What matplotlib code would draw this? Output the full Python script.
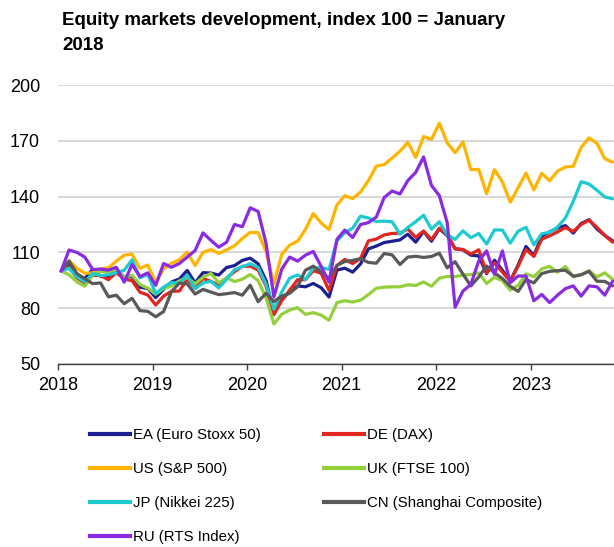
import matplotlib
matplotlib.use('Agg')
import matplotlib.pyplot as plt
from matplotlib import font_manager as fm
from matplotlib.lines import Line2D
import numpy as np

_names = {f.name for f in fm.fontManager.ttflist}
NARROW = 'Liberation Sans Narrow' if 'Liberation Sans Narrow' in _names else 'Liberation Sans'
REGULAR = 'Liberation Sans'
NARROW_OK = NARROW == 'Liberation Sans Narrow'

# ---- data (index, 100 = January 2018), monthly points Jan 2018 .. Nov 2023 ----
year_labels = ['2018', '2019', '2020', '2021', '2022', '2023']
y_ticks = [50, 80, 110, 140, 170, 200]

ea = [100, 103.0, 98.1, 95.9, 100.9, 97.2, 96.9, 100.6, 96.8, 97.0,
      91.3, 90.6, 85.7, 90.2, 94.1, 95.7, 100.3, 93.6, 99.1, 98.9,
      97.8, 101.9, 102.9, 105.7, 106.9, 103.9, 95.0, 77.5, 84.5, 89.0,
      92.0, 91.5, 93.3, 91.0, 86.0, 100.5, 101.5, 99.4, 103.8, 111.9,
      113.4, 115.3, 116.0, 116.7, 119.8, 115.5, 121.3, 116.0, 122.7, 119.1,
      112.0, 111.4, 108.5, 108.1, 98.6, 105.8, 100.4, 94.7, 103.2, 113.2,
      108.3, 118.8, 121.0, 123.2, 124.4, 120.4, 125.5, 127.6, 122.6, 119.1,
      116.2]
de = [100, 102.1, 96.3, 93.6, 97.6, 97.6, 95.3, 99.1, 95.7, 94.8,
      88.6, 87.1, 81.7, 86.5, 89.1, 89.2, 95.6, 90.8, 96.0, 94.4,
      92.4, 96.2, 99.6, 102.5, 102.6, 100.5, 92.0, 76.5, 84.1, 89.7,
      95.3, 95.3, 100.2, 98.8, 89.5, 102.9, 106.2, 104.0, 106.7, 116.2,
      117.2, 119.4, 120.2, 120.3, 122.6, 118.1, 121.5, 116.9, 123.0, 119.8,
      111.9, 111.6, 109.1, 111.4, 99.0, 104.4, 99.4, 94.5, 102.6, 111.5,
      107.8, 117.1, 118.9, 121.0, 123.3, 121.3, 125.0, 127.3, 123.5, 119.1,
      115.5]
us = [100, 105.6, 101.5, 98.8, 99.0, 101.2, 101.7, 105.3, 108.5, 109.0,
      101.4, 103.2, 93.8, 101.1, 104.1, 106.0, 110.2, 102.9, 110.0, 111.5,
      109.5, 111.3, 113.6, 117.5, 120.8, 120.6, 110.5, 93.0, 108.9, 113.9,
      116.0, 122.3, 130.9, 125.8, 122.3, 135.5, 140.5, 138.9, 142.5, 148.6,
      156.4, 157.2, 160.7, 164.4, 169.2, 161.1, 172.3, 170.8, 179.4, 168.9,
      163.6, 169.4, 154.5, 154.6, 141.6, 154.5, 147.9, 137.0, 144.8, 152.6,
      143.6, 152.5, 148.5, 153.7, 155.9, 156.3, 166.5, 171.6, 168.6, 160.4,
      158.5]
uk = [100, 98.0, 94.1, 91.8, 97.7, 99.9, 99.3, 100.8, 96.7, 97.7,
      92.7, 90.8, 87.5, 90.6, 92.0, 94.7, 96.5, 93.2, 96.6, 98.7,
      93.7, 96.4, 94.3, 95.6, 98.1, 94.8, 85.6, 71.5, 76.8, 79.0,
      80.3, 76.7, 77.6, 76.3, 73.5, 83.0, 84.0, 83.3, 84.3, 87.3,
      90.7, 91.3, 91.5, 91.5, 92.6, 92.2, 94.1, 91.8, 96.1, 97.1,
      97.0, 97.8, 98.1, 99.0, 93.3, 96.6, 94.8, 89.7, 92.3, 98.5,
      96.9, 101.1, 102.5, 99.3, 102.4, 96.9, 98.0, 100.2, 96.8, 99.0,
      95.5]
jp = [100, 101.5, 96.9, 94.2, 98.7, 97.5, 98.0, 99.1, 100.4, 106.0,
      96.3, 98.2, 87.9, 91.3, 93.9, 93.2, 97.8, 90.5, 93.5, 94.5,
      90.9, 95.6, 100.7, 102.3, 103.9, 101.9, 92.9, 79.4, 88.7, 96.1,
      97.9, 95.4, 101.6, 101.8, 100.9, 116.1, 120.6, 123.0, 129.5, 128.5,
      126.6, 126.8, 126.5, 119.8, 123.4, 126.5, 130.0, 122.5, 126.5, 119.5,
      117.0, 121.6, 117.9, 120.2, 114.5, 122.1, 122.0, 115.0, 121.4, 123.5,
      114.0, 120.0, 120.8, 123.6, 128.5, 137.5, 148.0, 146.8, 143.4, 139.8,
      138.8]
cn = [100, 105.3, 98.6, 95.8, 93.2, 93.6, 86.1, 87.0, 82.4, 85.3,
      78.7, 78.3, 75.4, 78.2, 88.9, 93.5, 93.1, 87.6, 90.1, 88.7,
      87.3, 87.8, 88.4, 87.0, 92.4, 83.5, 88.0, 83.5, 86.5, 88.0,
      91.5, 100.4, 102.6, 99.5, 96.0, 103.0, 105.1, 105.7, 106.6, 104.6,
      104.2, 109.4, 108.7, 103.5, 107.5, 107.9, 107.3, 107.8, 109.6, 101.7,
      105.0, 98.3, 92.0, 96.8, 102.7, 99.0, 96.0, 91.8, 89.0, 95.4,
      93.6, 98.6, 99.8, 100.2, 100.4, 97.2, 98.0, 99.8, 94.5, 94.4,
      92.0]
ru = [100, 111.3, 110.0, 107.5, 100.8, 101.0, 100.5, 102.0, 94.0, 103.5,
      97.0, 99.0, 92.3, 104.0, 102.0, 104.0, 107.5, 111.0, 120.5, 116.5,
      112.8, 115.5, 125.0, 123.8, 134.0, 132.0, 115.0, 86.0, 101.0, 107.5,
      105.3, 108.5, 110.5, 102.5, 94.0, 117.0, 122.0, 118.0, 125.0, 126.0,
      129.0, 139.5, 143.0, 141.4, 148.6, 153.0, 161.3, 146.0, 140.5, 126.0,
      80.5, 89.2, 92.8, 105.4, 110.8, 98.2, 110.8, 93.7, 97.3, 97.3,
      84.0, 87.4, 83.0, 87.0, 90.5, 92.0, 86.5, 92.0, 91.5, 87.0,
      94.5]

series_names = ['EA (Euro Stoxx 50)', 'DE (DAX)', 'US (S&P 500)', 'UK (FTSE 100)',
                'JP (Nikkei 225)', 'CN (Shanghai Composite)', 'RU (RTS Index)']
series_values = [ea, de, us, uk, jp, cn, ru]
series_colors = ['#1c1f8f', '#e0261f', '#ffb400', '#94cf3c', '#1ccbd0', '#595959', '#8a2be2']

# ---- figure ----
W, H = 614, 547
fig = plt.figure(figsize=(W / 100, H / 100), dpi=100, facecolor='white')
ax = fig.add_axes([58 / W, (H - 364) / H, (W - 58) / W, (364 - 85) / H])

x = np.arange(len(ea)) + 0.4
lines = {}
for name, vals, col in zip(series_names, series_values, series_colors):
    ln, = ax.plot(x, vals, color=col, lw=2.3, solid_joinstyle='round',
                  solid_capstyle='round', zorder=3)
    lines[name] = ln

ax.set_xlim(0, 70.57)
ax.set_ylim(50, 200)
ax.set_yticks(y_ticks)
ax.set_yticklabels([str(v) for v in y_ticks])
ax.set_xticks([0, 12, 24, 36, 48, 60])
ax.set_xticklabels(year_labels)

ax.grid(axis='y', color='#d9d9d9', lw=1.5, zorder=0)
ax.set_axisbelow(True)
for s in ['left', 'right', 'top']:
    ax.spines[s].set_visible(False)
ax.spines['bottom'].set_color('#404040')
ax.spines['bottom'].set_linewidth(1.0)
ax.spines['bottom'].set_zorder(4)

ax.tick_params(axis='x', direction='out', length=4, width=1, color='#404040',
               pad=5, labelsize=13, labelcolor='black')
ax.tick_params(axis='y', length=0, pad=13, labelsize=13, labelcolor='black')
for lab in ax.get_xticklabels() + ax.get_yticklabels():
    lab.set_family(REGULAR)

title_size = 16.5 if NARROW_OK else 13.5
fig.text(62 / W, 1 - 12 / H, 'Equity markets development, index 100 = January\n2018',
         fontsize=title_size, fontweight='bold', family=NARROW, va='top', ha='left',
         linespacing=1.6 if not NARROW_OK else 1.25, color='black')

leg_size = 12 if NARROW_OK else 10.8
order = ['EA (Euro Stoxx 50)', 'US (S&P 500)', 'JP (Nikkei 225)', 'RU (RTS Index)',
         'DE (DAX)', 'UK (FTSE 100)', 'CN (Shanghai Composite)']
handles = [Line2D([], [], color=lines[n].get_color(), lw=3.0) for n in order]
fig.legend(handles, order, ncol=2, loc='upper left',
           bbox_to_anchor=(90 / W, 1 - 428 / H), frameon=False,
           prop={'family': NARROW, 'size': leg_size}, handlelength=40 / (leg_size * 100 / 72),
           handletextpad=0.2, columnspacing=4.2, labelspacing=1.33,
           borderpad=0, borderaxespad=0)

fig.savefig('out.png', dpi=100, facecolor='white')
